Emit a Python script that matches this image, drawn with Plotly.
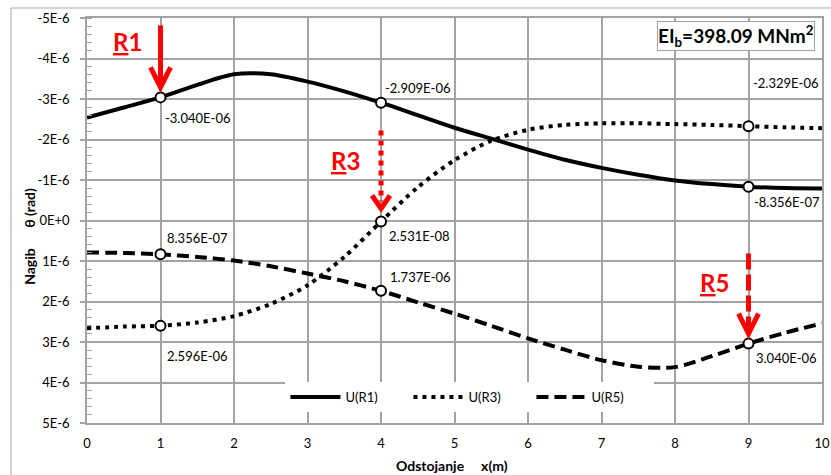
import plotly.graph_objects as go

# ---------------- data ----------------
x_pos = [0, 0.5, 1, 1.5, 2, 2.5, 3, 3.5, 4, 4.5, 5, 5.5, 6, 6.5, 7, 7.5, 8, 8.5, 9, 9.5, 10]

u_r1 = [-2.54e-6, -2.79e-6, -3.040e-6, -3.35e-6, -3.61e-6, -3.61e-6, -3.43e-6, -3.19e-6,
        -2.909e-6, -2.60e-6, -2.29e-6, -2.02e-6, -1.75e-6, -1.50e-6, -1.30e-6, -1.13e-6,
        -0.99e-6, -0.90e-6, -0.8356e-6, -0.80e-6, -0.79e-6]

u_r3 = [2.66e-6, 2.62e-6, 2.596e-6, 2.52e-6, 2.36e-6, 2.06e-6, 1.60e-6, 0.90e-6,
        0.02531e-6, -0.82e-6, -1.49e-6, -1.97e-6, -2.24e-6, -2.36e-6, -2.40e-6, -2.40e-6,
        -2.38e-6, -2.36e-6, -2.329e-6, -2.30e-6, -2.28e-6]

u_r5 = [0.79e-6, 0.80e-6, 0.8356e-6, 0.90e-6, 0.99e-6, 1.13e-6, 1.31e-6, 1.50e-6,
        1.737e-6, 2.02e-6, 2.30e-6, 2.60e-6, 2.91e-6, 3.19e-6, 3.45e-6, 3.61e-6,
        3.62e-6, 3.35e-6, 3.040e-6, 2.77e-6, 2.54e-6]

series_names = ["U(R1)", "U(R3)", "U(R5)"]
support_names = ["R1", "R3", "R5"]
support_x = [1, 4, 9]
marked_x = [1, 4, 9]

x_tick_vals = [0, 1, 2, 3, 4, 5, 6, 7, 8, 9, 10]
y_tick_vals = [-5e-6, -4e-6, -3e-6, -2e-6, -1e-6, 0, 1e-6, 2e-6, 3e-6, 4e-6, 5e-6]
y_tick_text = ["-5E-6", "-4E-6", "-3E-6", "-2E-6", "-1E-6", "0E+0",
               "1E-6", "2E-6", "3E-6", "4E-6", "5E-6"]

ei_text = "EI<sub>b</sub>=398.09 MNm<sup>2</sup>"
x_title = "Odstojanje     x(m)"
y_title = "Nagib      θ (rad)"

# ---------------- styles ----------------
FONT = "Lato, Carlito, Calibri, sans-serif"
GRID = "#a3a3a3"
RED = "#ff0000"
series_values = [u_r1, u_r3, u_r5]
series_dash = ["solid", "4px,5px", "12px,6px"]

# label offsets (px, screen: +x right, +y up) for each series at each marked x
label_offsets = {
    (0, 1): (2, -21), (0, 4): (2, 15), (0, 9): (3, -15),
    (1, 1): (4, -30), (1, 4): (6, -14), (1, 9): (2, 43),
    (2, 1): (4, 16), (2, 4): (7, 14), (2, 9): (5, -14),
}

# arrow geometry per support (pixels relative to marker, +y up)
arrow_geom = [
    dict(shaft="M0,72 L0,14", dash="solid", head="M-10,30 L0,10 L10,30", lab=(-33, 56)),
    dict(shaft="M0,91 L0,20", dash="5px,5px", head="M-9,26 L0,13 L9,26", lab=(-36, 61)),
    dict(shaft="M0,90 L0,16", dash="16px,5px", head="M-10,30 L0,10 L10,30", lab=(-34, 61)),
]

fig = go.Figure()

for name, vals, dash in zip(series_names, series_values, series_dash):
    fig.add_trace(go.Scatter(
        x=x_pos, y=vals, mode="lines", name=name,
        line=dict(color="black", width=4, dash=dash, shape="spline", smoothing=0.8),
    ))

annotations = []
shapes = []

for si, vals in enumerate(series_values):
    mx = marked_x
    my = [vals[x_pos.index(m)] for m in mx]
    fig.add_trace(go.Scatter(
        x=mx, y=my, mode="markers", showlegend=False,
        marker=dict(symbol="circle", size=10, color="white",
                    line=dict(color="black", width=2)),
    ))
    for xv, yv in zip(mx, my):
        dx, dy = label_offsets[(si, xv)]
        annotations.append(dict(
            x=xv, y=yv, xref="x", yref="y", text=f"{yv:.3E}", showarrow=False,
            xanchor="left", yanchor="middle", xshift=dx, yshift=dy,
            font=dict(family=FONT, size=13, color="black"),
        ))

# support arrows
for i, (sname, sx) in enumerate(zip(support_names, support_x)):
    vals = series_values[i]
    sy = vals[x_pos.index(sx)]
    g = arrow_geom[i]
    for path, dash in ((g["shaft"], g["dash"]), (g["head"], "solid")):
        shapes.append(dict(
            type="path", xref="x", yref="y", xsizemode="pixel", ysizemode="pixel",
            xanchor=sx, yanchor=sy, path=path, layer="above",
            line=dict(color=RED, width=5, dash=dash),
        ))
    annotations.append(dict(
        x=sx, y=sy, xref="x", yref="y", text=f"<b><u>{sname[0]}</u>{sname[1:]}</b>",
        showarrow=False, xanchor="center", yanchor="middle",
        xshift=g["lab"][0], yshift=g["lab"][1],
        font=dict(family=FONT, size=24, color=RED),
    ))

# EI box
annotations.append(dict(
    x=0.991, y=0.956, xref="paper", yref="paper", text=f"<b>{ei_text}</b>",
    showarrow=False, xanchor="right", yanchor="middle",
    font=dict(family=FONT, size=19, color="black"),
    bgcolor="white", bordercolor="#a0a0a0", borderwidth=1, borderpad=0,
))

# axis titles
annotations.append(dict(
    x=0.496, y=-0.104, xref="paper", yref="paper", text=f"<b>{x_title}</b>",
    showarrow=False, xanchor="center", yanchor="middle",
    font=dict(family=FONT, size=14, color="black"),
))
annotations.append(dict(
    x=-0.0776, y=0.462, xref="paper", yref="paper", text=f"<b>{y_title}</b>",
    showarrow=False, xanchor="center", yanchor="middle", textangle=-90,
    font=dict(family=FONT, size=14, color="black"),
))

# outer chart border (left and top visible)
shapes.append(dict(type="line", xref="paper", yref="paper", x0=-0.1034, x1=-0.1034,
                   y0=1.0247, y1=-0.2, line=dict(color="#a8a8a8", width=1)))
shapes.append(dict(type="line", xref="paper", yref="paper", x0=-0.1034, x1=1.05,
                   y0=1.0247, y1=1.0247, line=dict(color="#a8a8a8", width=1)))

fig.update_layout(
    width=831, height=475,
    margin=dict(l=87, r=9, t=18, b=52),
    paper_bgcolor="white", plot_bgcolor="white",
    font=dict(family=FONT, size=13, color="black"),
    showlegend=True,
    legend=dict(orientation="h", x=0.27, y=0.064, xanchor="left", yanchor="middle",
                bgcolor="white", font=dict(family=FONT, size=13, color="black"),
                entrywidth=58, itemwidth=50, tracegroupgap=0),
    annotations=annotations,
    shapes=shapes,
)

fig.update_xaxes(
    range=[0, 10], tickvals=x_tick_vals, showgrid=True, gridcolor=GRID, gridwidth=1.5,
    showline=True, linecolor=GRID, linewidth=1.5, mirror=True, zeroline=False,
    automargin=False,
    ticks="", ticklabelstandoff=8, tickfont=dict(family=FONT, size=13, color="black"),
)
fig.update_yaxes(
    range=[5e-6, -5e-6], tickvals=y_tick_vals, ticktext=y_tick_text,
    showgrid=True, gridcolor=GRID, gridwidth=1.5,
    showline=True, linecolor=GRID, linewidth=1.5, mirror=True, zeroline=False,
    automargin=False,
    ticks="outside", ticklen=5, tickcolor=GRID, tickwidth=1.5, ticklabelstandoff=8,
    minor=dict(dtick=2e-7, tick0=0, ticks="inside", ticklen=5, tickcolor=GRID,
               tickwidth=1, showgrid=False),
    tickfont=dict(family=FONT, size=13, color="black"),
)

# remove the default 8px page margin so the figure fills the 831x475 window exactly
fig.write_html("out.html", config={"displayModeBar": False},
               post_script="document.body.style.margin='0';"
               "document.body.style.overflow='hidden';")
